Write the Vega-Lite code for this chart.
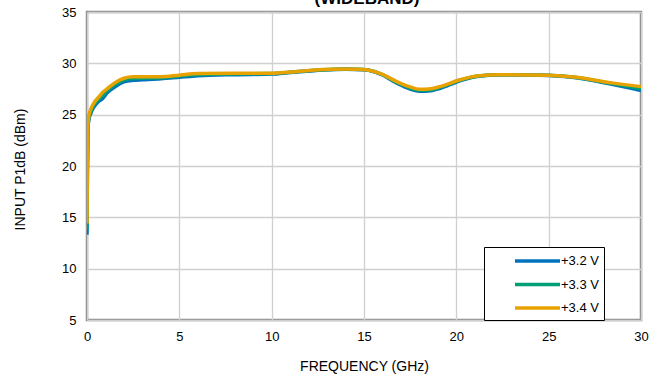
{
  "$schema": "https://vega.github.io/schema/vega-lite/v6.json",
  "width": 554,
  "height": 308,
  "autosize": {"type": "none"},
  "padding": {"left": 87, "top": 12, "right": 19, "bottom": 59},
  "background": "white",
  "config": {
    "font": "Liberation Sans",
    "view": {"stroke": "#8a8a8a", "strokeWidth": 2.5},
    "axis": {"labelFont": "Liberation Sans", "titleFont": "Liberation Sans", "labelColor": "#000", "titleColor": "#000", "labelFontSize": 13, "titleFontSize": 14, "titleFontWeight": "normal", "domain": false, "ticks": false, "gridColor": "#d0d0d0", "gridWidth": 1.3}
  },
  "title": {"text": "(WIDEBAND)", "fontSize": 17, "fontWeight": "bold", "font": "Liberation Sans", "color": "#000", "anchor": "middle", "offset": -14.5, "baseline": "alphabetic", "dx": 3},
  "data": {"values": [
    {"f":0,"v":13.3,"s":"+3.2 V"},{"f":0.02,"v":19,"s":"+3.2 V"},{"f":0.05,"v":23.6,"s":"+3.2 V"},{"f":0.1,"v":24.5,"s":"+3.2 V"},{"f":0.2,"v":25.1,"s":"+3.2 V"},{"f":0.36,"v":25.7,"s":"+3.2 V"},{"f":0.63,"v":26.3,"s":"+3.2 V"},{"f":0.81,"v":26.5,"s":"+3.2 V"},{"f":1.08,"v":27.1,"s":"+3.2 V"},{"f":1.5,"v":27.7,"s":"+3.2 V"},{"f":2.0,"v":28.2,"s":"+3.2 V"},{"f":2.5,"v":28.35,"s":"+3.2 V"},{"f":3,"v":28.4,"s":"+3.2 V"},{"f":4,"v":28.5,"s":"+3.2 V"},{"f":5,"v":28.65,"s":"+3.2 V"},{"f":6,"v":28.8,"s":"+3.2 V"},{"f":8,"v":28.9,"s":"+3.2 V"},{"f":10,"v":28.95,"s":"+3.2 V"},{"f":11,"v":29.1,"s":"+3.2 V"},{"f":12.8,"v":29.35,"s":"+3.2 V"},{"f":14,"v":29.42,"s":"+3.2 V"},{"f":15,"v":29.38,"s":"+3.2 V"},{"f":15.9,"v":28.95,"s":"+3.2 V"},{"f":16.8,"v":28.05,"s":"+3.2 V"},{"f":17.5,"v":27.5,"s":"+3.2 V"},{"f":18,"v":27.28,"s":"+3.2 V"},{"f":18.5,"v":27.3,"s":"+3.2 V"},{"f":19.1,"v":27.55,"s":"+3.2 V"},{"f":20.2,"v":28.3,"s":"+3.2 V"},{"f":21.1,"v":28.72,"s":"+3.2 V"},{"f":22.4,"v":28.88,"s":"+3.2 V"},{"f":25,"v":28.82,"s":"+3.2 V"},{"f":26.5,"v":28.6,"s":"+3.2 V"},{"f":28.3,"v":28.0,"s":"+3.2 V"},{"f":30,"v":27.34,"s":"+3.2 V"},
    {"f":0,"v":13.8,"s":"+3.3 V"},{"f":0.02,"v":19.5,"s":"+3.3 V"},{"f":0.05,"v":23.8,"s":"+3.3 V"},{"f":0.1,"v":24.7,"s":"+3.3 V"},{"f":0.2,"v":25.3,"s":"+3.3 V"},{"f":0.36,"v":25.9,"s":"+3.3 V"},{"f":0.63,"v":26.5,"s":"+3.3 V"},{"f":0.81,"v":26.8,"s":"+3.3 V"},{"f":1.08,"v":27.3,"s":"+3.3 V"},{"f":1.5,"v":27.9,"s":"+3.3 V"},{"f":2.0,"v":28.38,"s":"+3.3 V"},{"f":2.5,"v":28.52,"s":"+3.3 V"},{"f":3,"v":28.55,"s":"+3.3 V"},{"f":4,"v":28.6,"s":"+3.3 V"},{"f":5,"v":28.75,"s":"+3.3 V"},{"f":6,"v":28.9,"s":"+3.3 V"},{"f":8,"v":28.97,"s":"+3.3 V"},{"f":10,"v":29.0,"s":"+3.3 V"},{"f":11,"v":29.13,"s":"+3.3 V"},{"f":12.8,"v":29.38,"s":"+3.3 V"},{"f":14,"v":29.44,"s":"+3.3 V"},{"f":15,"v":29.39,"s":"+3.3 V"},{"f":15.9,"v":28.98,"s":"+3.3 V"},{"f":16.8,"v":28.12,"s":"+3.3 V"},{"f":17.5,"v":27.6,"s":"+3.3 V"},{"f":18,"v":27.38,"s":"+3.3 V"},{"f":18.5,"v":27.4,"s":"+3.3 V"},{"f":19.1,"v":27.64,"s":"+3.3 V"},{"f":20.2,"v":28.35,"s":"+3.3 V"},{"f":21.1,"v":28.75,"s":"+3.3 V"},{"f":22.4,"v":28.89,"s":"+3.3 V"},{"f":25,"v":28.83,"s":"+3.3 V"},{"f":26.5,"v":28.62,"s":"+3.3 V"},{"f":28.3,"v":28.06,"s":"+3.3 V"},{"f":30,"v":27.53,"s":"+3.3 V"},
    {"f":0,"v":14.4,"s":"+3.4 V"},{"f":0.02,"v":20,"s":"+3.4 V"},{"f":0.05,"v":24.0,"s":"+3.4 V"},{"f":0.1,"v":24.9,"s":"+3.4 V"},{"f":0.2,"v":25.5,"s":"+3.4 V"},{"f":0.36,"v":26.1,"s":"+3.4 V"},{"f":0.63,"v":26.7,"s":"+3.4 V"},{"f":0.81,"v":27.1,"s":"+3.4 V"},{"f":1.08,"v":27.5,"s":"+3.4 V"},{"f":1.5,"v":28.1,"s":"+3.4 V"},{"f":2.0,"v":28.55,"s":"+3.4 V"},{"f":2.5,"v":28.7,"s":"+3.4 V"},{"f":3,"v":28.7,"s":"+3.4 V"},{"f":4,"v":28.7,"s":"+3.4 V"},{"f":5,"v":28.85,"s":"+3.4 V"},{"f":6,"v":29.0,"s":"+3.4 V"},{"f":8,"v":29.03,"s":"+3.4 V"},{"f":10,"v":29.03,"s":"+3.4 V"},{"f":11,"v":29.15,"s":"+3.4 V"},{"f":12.8,"v":29.4,"s":"+3.4 V"},{"f":14,"v":29.45,"s":"+3.4 V"},{"f":15,"v":29.4,"s":"+3.4 V"},{"f":15.9,"v":29.0,"s":"+3.4 V"},{"f":16.8,"v":28.2,"s":"+3.4 V"},{"f":17.5,"v":27.7,"s":"+3.4 V"},{"f":18,"v":27.47,"s":"+3.4 V"},{"f":18.5,"v":27.5,"s":"+3.4 V"},{"f":19.1,"v":27.73,"s":"+3.4 V"},{"f":20.2,"v":28.4,"s":"+3.4 V"},{"f":21.1,"v":28.77,"s":"+3.4 V"},{"f":22.4,"v":28.9,"s":"+3.4 V"},{"f":25,"v":28.84,"s":"+3.4 V"},{"f":26.5,"v":28.64,"s":"+3.4 V"},{"f":28.3,"v":28.12,"s":"+3.4 V"},{"f":30,"v":27.73,"s":"+3.4 V"}
  ]},
  "mark": {"type": "line", "strokeWidth": 3.5, "interpolate": "monotone", "clip": true},
  "encoding": {
    "x": {"field": "f", "type": "quantitative", "scale": {"domain": [0, 30], "nice": false}, "axis": {"values": [0,5,10,15,20,25,30], "title": "FREQUENCY (GHz)", "labelPadding": 10, "titleY": 46, "titleBaseline": "middle", "labelFlush": false}},
    "y": {"field": "v", "type": "quantitative", "scale": {"domain": [5, 35], "nice": false}, "axis": {"values": [5,10,15,20,25,30,35], "title": "INPUT P1dB (dBm)", "labelPadding": 11, "titleX": -67, "titleY": 157, "titleBaseline": "middle", "titleAngle": -90, "labelFlush": false}},
    "color": {"field": "s", "type": "nominal", "scale": {"domain": ["+3.2 V", "+3.3 V", "+3.4 V"], "range": ["#0072BD", "#00A077", "#E8A200"]},
      "legend": {"title": null, "orient": "none", "legendX": 397, "legendY": 235, "strokeColor": "#000", "fillColor": "#fff", "padding": 4.5, "symbolType": "M-3,0H3", "symbolSize": 225, "symbolStrokeWidth": 3.5, "labelFontSize": 13, "labelFont": "Liberation Sans", "labelColor": "#000", "rowPadding": 6.5, "symbolOffset": 39.5, "labelOffset": 14, "cornerRadius": 0, "labelExpr": "datum.label + '\u2003\u2002'"}},
    "order": {"field": "f", "type": "quantitative"}
  }
}
